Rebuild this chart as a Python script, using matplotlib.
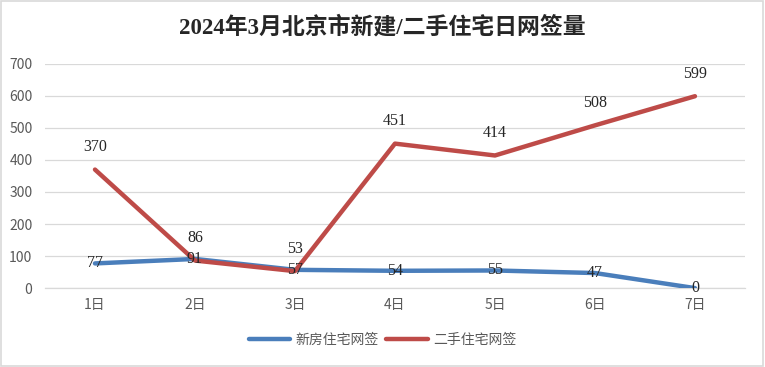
import matplotlib
matplotlib.use("Agg")
import matplotlib.pyplot as plt
from matplotlib.patches import Rectangle

# ---------------------------------------------------------------------------
# Data: Beijing daily residential contract signings, March 2024
# ---------------------------------------------------------------------------
days = ["1日", "2日", "3日", "4日", "5日", "6日", "7日"]
new_homes = [77, 91, 57, 54, 55, 47, 0]          # 新房住宅网签
second_hand = [370, 86, 53, 451, 414, 508, 599]  # 二手住宅网签
y_ticks = [0, 100, 200, 300, 400, 500, 600, 700]

title = "2024年3月北京市新建/二手住宅日网签量"
label_new = "新房住宅网签"
label_old = "二手住宅网签"

BLUE = "#4A7EBB"
RED = "#BE4B48"
TXT = "#595959"

plt.rcParams["font.family"] = ["Noto Sans CJK SC", "DejaVu Sans"]

fig = plt.figure(figsize=(7.65, 3.67), dpi=100)
fig.patch.set_facecolor("white")
fig.add_artist(Rectangle((0.001, 0.002), 0.997, 0.995, transform=fig.transFigure,
                         fill=False, edgecolor="#D9D9D9", linewidth=1.2))

ax = fig.add_axes([0.0588, 0.215, 0.915, 0.611])
x = list(range(len(days)))

ax.plot(x, new_homes, color=BLUE, lw=3.2, solid_capstyle="round", label=label_new, zorder=3)
ax.plot(x, second_hand, color=RED, lw=3.2, solid_capstyle="round", label=label_old, zorder=3)

# data labels: blue centred on the point, red above it
num_font = ["Liberation Serif", "DejaVu Serif"]
for xi, v in zip(x, new_homes):
    ax.annotate(str(v), (xi, v), ha="center", va="center", fontsize=11.5,
                family=num_font, color="#262626", zorder=4)
for xi, v in zip(x, second_hand):
    ax.annotate(str(v), (xi, v), xytext=(0, 16), textcoords="offset points",
                ha="center", va="center", fontsize=11.5,
                family=num_font, color="#262626", zorder=4)

ax.set_xlim(-0.5, len(days) - 0.5)
ax.set_ylim(0, 700)
ax.set_yticks(y_ticks)
ax.set_xticks(x)
ax.set_xticklabels(days)
ax.tick_params(axis="both", length=0, labelsize=10, colors=TXT)
ax.tick_params(axis="y", pad=9)
ax.tick_params(axis="x", pad=7)

ax.grid(axis="y", color="#D9D9D9", lw=0.9)
ax.set_axisbelow(True)
for side in ["top", "right", "left"]:
    ax.spines[side].set_visible(False)
ax.spines["bottom"].set_color("#D9D9D9")
ax.spines["bottom"].set_linewidth(0.9)

fig.text(0.5, 0.925, title, ha="center", va="center", fontsize=16.5, fontweight="bold",
         family=["Liberation Serif", "Noto Sans CJK SC"], color="#262626")

leg = fig.legend(loc="center", bbox_to_anchor=(0.5, 0.073), ncol=2, frameon=False,
                 fontsize=10, handlelength=3.0, columnspacing=0.5, handletextpad=0.4)
for t in leg.get_texts():
    t.set_color(TXT)

fig.savefig("out.png", dpi=100, facecolor="white")
